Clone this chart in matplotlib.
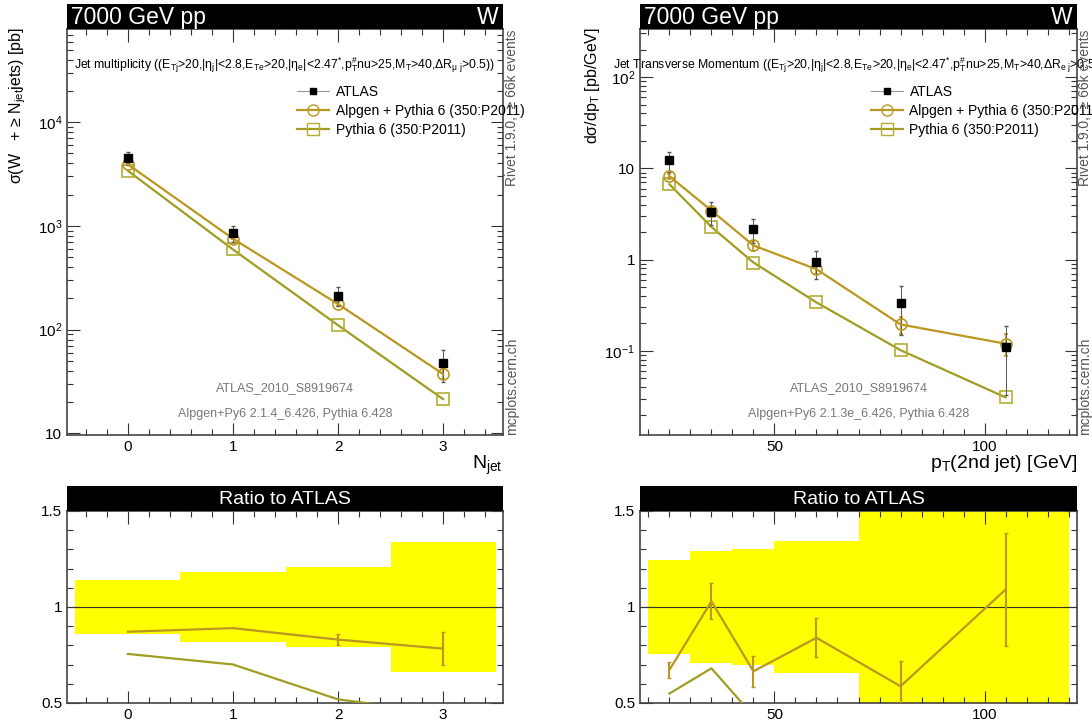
import numpy as np
import matplotlib
matplotlib.use("Agg")
import matplotlib.pyplot as plt
from matplotlib.lines import Line2D
from matplotlib.ticker import (FixedLocator, MultipleLocator, LogLocator,
                               FuncFormatter, NullFormatter)

plt.rcParams['font.family'] = ['Liberation Sans', 'DejaVu Sans']
plt.rcParams['mathtext.fontset'] = 'custom'
plt.rcParams['mathtext.rm'] = 'Liberation Sans'
plt.rcParams['mathtext.it'] = 'Liberation Sans'
plt.rcParams['mathtext.bf'] = 'Liberation Sans:bold'

# -----------------------------
# Data: jet multiplicity
# -----------------------------
njet = np.array([0, 1, 2, 3])
atlas_nj = np.array([4500, 845, 212, 47.5])
atlas_nj_err = np.array([0.14, 0.18, 0.21, 0.34])      # relative
alpgen_nj = np.array([3920, 752, 176, 37.2])
alpgen_nj_err = np.array([0.0, 0.0, 0.036, 0.11])      # relative
pythia_nj = np.array([3400, 592, 110, 21.3])

# -----------------------------
# Data: pT of 2nd jet
# -----------------------------
pt_lo = np.array([20, 30, 40, 50, 70, 90])
pt_hi = np.array([30, 40, 50, 70, 90, 120])
atlas_pt = np.array([12.2, 3.35, 2.15, 0.935, 0.332, 0.110])
atlas_pt_err = np.array([0.245, 0.29, 0.30, 0.345, 0.55, 0.70])
alpgen_pt = np.array([8.2, 3.45, 1.43, 0.785, 0.195, 0.120])
alpgen_pt_err = np.array([0.06, 0.09, 0.12, 0.12, 0.22, 0.27])
pythia_pt = np.array([6.7, 2.28, 0.93, 0.34, 0.102, 0.031])

C_ALP = '#bb9720'
C_PYT = '#a09d22'
C_PYT_M = '#b2ae35'
GRAY = '#777777'

W, H = 1092, 720
fig = plt.figure(figsize=(W / 100, H / 100), dpi=100)


def rect(x0, x1, ytop, ybot):
    return [x0 / W, 1 - ybot / H, (x1 - x0) / W, (ybot - ytop) / H]


def header(x0, x1, ytop, ybot, left=None, right=None, center=None):
    h = fig.add_axes(rect(x0, x1, ytop, ybot))
    h.set_facecolor('black')
    h.set_xticks([])
    h.set_yticks([])
    for s in h.spines.values():
        s.set_visible(False)
    if left:
        h.text(0.01, 0.45, left, color='white', fontsize=16.5, va='center', ha='left')
    if right:
        h.text(0.99, 0.45, right, color='white', fontsize=16.5, va='center', ha='right')
    if center:
        h.text(0.5, 0.45, center, color='white', fontsize=14, va='center', ha='center')


def style(ax):
    ax.tick_params(which='both', direction='in', top=True, right=True,
                   labelsize=11, color='#333333', width=0.8)
    ax.tick_params(which='major', length=9)
    ax.tick_params(which='minor', length=4.5)
    for s in ax.spines.values():
        s.set_linewidth(1.2)
        s.set_color('#444444')


def log_fmt(v, pos):
    e = int(round(np.log10(v)))
    if e == 0:
        return '1'
    if e == 1:
        return '10'
    return r'10$^{%d}$' % e


# -----------------------------
# Main panels
# -----------------------------
axL = fig.add_axes(rect(67, 503, 29, 435))
axR = fig.add_axes(rect(640, 1077, 29, 435))
header(67, 503, 4, 29, left='7000 GeV pp', right='W')
header(640, 1077, 4, 29, left='7000 GeV pp', right='W')

for ax, x, atl, atle, alp, alpe, pyt in [
        (axL, njet, atlas_nj, atlas_nj_err, alpgen_nj, alpgen_nj_err, pythia_nj),
        (axR, (pt_lo + pt_hi) / 2, atlas_pt, atlas_pt_err, alpgen_pt, alpgen_pt_err, pythia_pt)]:
    ax.plot(x, pyt, '-s', color=C_PYT, mfc='none', mec=C_PYT_M, ms=8, lw=1.6, mew=1.2)
    ax.errorbar(x, alp, yerr=alp * alpe, fmt='-o', color=C_ALP, mfc='none', ms=8,
                lw=1.6, mew=1.2, capsize=1.5, elinewidth=1.2)
    ax.errorbar(x, atl, yerr=atl * atle, fmt='s', color='#555555', mfc='black', mec='black',
                ms=5.5, elinewidth=0.7, capsize=1.5)
    ax.set_yscale('log')
    style(ax)
    ax.yaxis.set_major_locator(LogLocator(base=10))
    ax.yaxis.set_minor_locator(LogLocator(base=10, subs=np.arange(2, 10)))
    ax.yaxis.set_major_formatter(FuncFormatter(log_fmt))
    ax.yaxis.set_minor_formatter(NullFormatter())

    handles = [
        Line2D([], [], color='#999999', lw=0.8, marker='s', mfc='black', mec='black', ms=5),
        Line2D([], [], color=C_ALP, lw=1.6, marker='o', mfc='none', ms=8),
        Line2D([], [], color=C_PYT, lw=1.6, marker='s', mfc='none', mec=C_PYT_M, ms=8),
    ]
    ax.legend(handles, ['ATLAS', 'Alpgen + Pythia 6 (350:P2011)', 'Pythia 6 (350:P2011)'],
              loc='upper left', bbox_to_anchor=(0.515, 0.876), frameon=False,
              fontsize=10, handlelength=2.3, handletextpad=0.5, labelspacing=0.36,
              borderaxespad=0)

axL.set_xlim(-0.58, 3.57)
axL.set_ylim(9.6, 79400)
axL.xaxis.set_major_locator(MultipleLocator(1))
axL.xaxis.set_minor_locator(MultipleLocator(0.2))

axR.set_xlim(18, 122)
axR.set_ylim(0.012, 336)
axR.xaxis.set_major_locator(FixedLocator([50, 100]))
axR.xaxis.set_minor_locator(MultipleLocator(5))

sel = (r'E$_{\mathrm{Tj}}$>20,|η$_{\mathrm{j}}$|<2.8,E$_{\mathrm{Te}}$>20,'
       r'|η$_{\mathrm{e}}$|<2.47$^{*}$,p$_{\mathrm{T}}^{\#}$nu>25,M$_{\mathrm{T}}$>40,')
axL.text(0.5, 0.911, 'Jet multiplicity ((' + sel + r'ΔR$_{\mathrm{\mu\ j}}$>0.5))',
         transform=axL.transAxes, ha='center', va='center', fontsize=8.8, clip_on=False)
axR.text(0.5, 0.911, 'Jet Transverse Momentum ((' + sel + r'ΔR$_{\mathrm{e\ j}}$>0.5))',
         transform=axR.transAxes, ha='center', va='center', fontsize=8.8, clip_on=False)

for ax, gen in [(axL, 'Alpgen+Py6 2.1.4_6.426, Pythia 6.428'),
                (axR, 'Alpgen+Py6 2.1.3e_6.426, Pythia 6.428')]:
    ax.text(0.5, 0.116, 'ATLAS_2010_S8919674', transform=ax.transAxes,
            ha='center', va='center', fontsize=9, color=GRAY)
    ax.text(0.5, 0.052, gen, transform=ax.transAxes,
            ha='center', va='center', fontsize=9, color=GRAY)

# side labels
for xr in [512, 1085]:
    fig.text(xr / W, 1 - 29 / H, 'Rivet 1.9.0,  ≥ 66k events', rotation=90,
             ha='center', va='top', fontsize=10, color='#555555')
    fig.text(xr / W, 1 - 435 / H, 'mcplots.cern.ch', rotation=90,
             ha='center', va='bottom', fontsize=10, color='#555555')

fig.text(18 / W, 1 - 27 / H, r'σ(W   + ≥ N$_{\mathrm{jet}}$jets) [pb]', rotation=90,
         ha='center', va='top', fontsize=11.5)
fig.text(592 / W, 1 - 27 / H, r'dσ/dp$_{\mathrm{T}}$ [pb/GeV]', rotation=90,
         ha='center', va='top', fontsize=11.5)
fig.text(503 / W, 1 - 465 / H, r'N$_{\mathrm{jet}}$', ha='right', va='center', fontsize=14)
fig.text(1077 / W, 1 - 463 / H, r'p$_{\mathrm{T}}$(2nd jet) [GeV]', ha='right',
         va='center', fontsize=14)

# -----------------------------
# Ratio panels
# -----------------------------
rL = fig.add_axes(rect(67, 503, 511, 703))
rR = fig.add_axes(rect(640, 1077, 511, 703))
header(67, 503, 486, 511, center='Ratio to ATLAS')
header(640, 1077, 486, 511, center='Ratio to ATLAS')

for ax, lo, hi, x, atl, atle, alp, alpe, pyt in [
        (rL, njet - 0.5, njet + 0.5, njet, atlas_nj, atlas_nj_err, alpgen_nj, alpgen_nj_err, pythia_nj),
        (rR, pt_lo, pt_hi, (pt_lo + pt_hi) / 2, atlas_pt, atlas_pt_err, alpgen_pt, alpgen_pt_err, pythia_pt)]:
    ax.bar(lo, 2 * atle, bottom=1 - atle, width=hi - lo, align='edge',
           color='#ffff00', lw=0, zorder=1)
    ax.axhline(1, color='#333333', lw=0.8, zorder=2)
    ax.plot(x, pyt / atl, '-', color=C_PYT, lw=1.6, zorder=3)
    ax.plot(x, alp / atl, '-', color=C_ALP, lw=1.6, zorder=4)
    has_err = alpe > 0
    ax.errorbar(x[has_err], (alp / atl)[has_err], yerr=(alp / atl * alpe)[has_err],
                fmt='none', ecolor=C_ALP, elinewidth=1.5, capsize=1.5, zorder=4)
    ax.set_ylim(0.5, 1.5)
    ax.yaxis.set_major_locator(FixedLocator([0.5, 1, 1.5]))
    ax.yaxis.set_minor_locator(MultipleLocator(0.1))
    ax.yaxis.set_major_formatter(FuncFormatter(lambda v, p: '%g' % v))
    style(ax)

rL.set_xlim(-0.58, 3.57)
rL.xaxis.set_major_locator(MultipleLocator(1))
rL.xaxis.set_minor_locator(MultipleLocator(0.2))
rR.set_xlim(18, 122)
rR.xaxis.set_major_locator(FixedLocator([50, 100]))
rR.xaxis.set_minor_locator(MultipleLocator(5))

fig.savefig('out.png', dpi=100)
